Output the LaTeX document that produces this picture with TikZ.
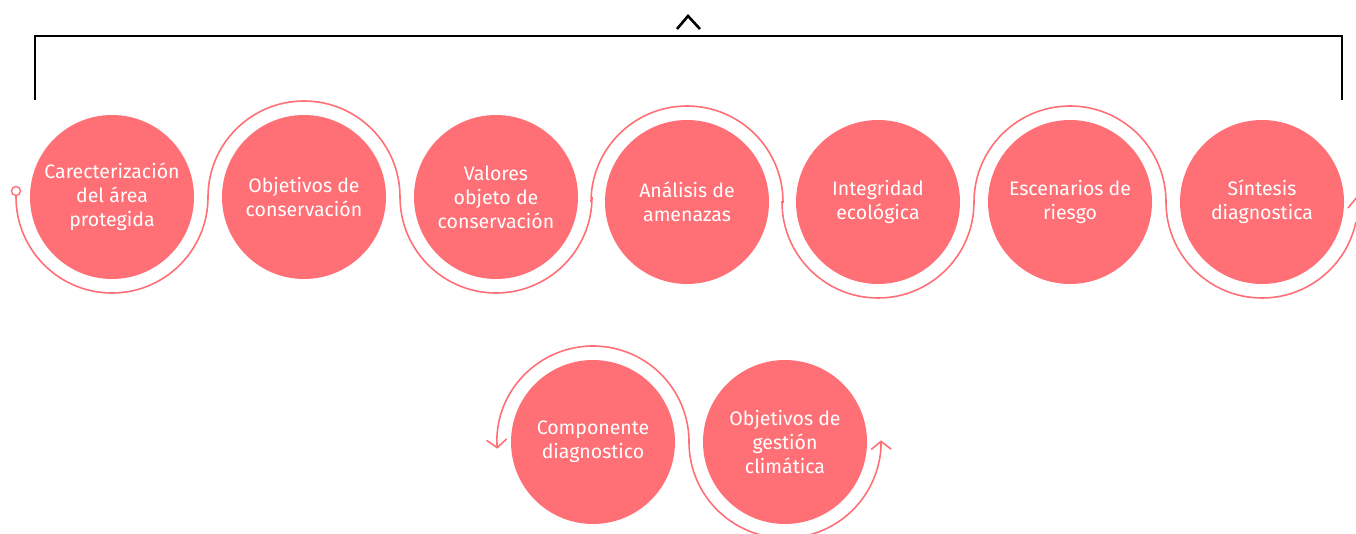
\documentclass[tikz,border=0pt]{standalone}
\usepackage{fontspec}
\setmainfont{Fira Sans}
\usetikzlibrary{arrows.meta}
\definecolor{salmon}{HTML}{FF7076}

\begin{document}
\begin{tikzpicture}[x=1pt,y=1pt]
\tikzstyle{every node}=[font=\fontsize{19.5}{24}\selectfont]
\tikzstyle{etapa}=[circle,fill=salmon,text=white,minimum size=164pt,inner sep=0pt,align=center]
\tikzstyle{onda}=[draw=salmon,line width=1.6pt]
\tikzstyle{llave}=[draw=black,line width=2.6pt]
\useasboundingbox (0,0) rectangle (1356,533);

% top bracket
\draw[llave] (35,433) -- (35,497) -- (1342,497) -- (1342,433);
\draw[llave] (677,504) -- (688,517) -- (700,504);

% first row
\node (c1) at (112,336) [etapa] {Carecterización\\del área\\protegida};
\node (c2) at (304,336) [etapa] {Objetivos de\\conservación};
\node (c3) at (496,336) [etapa] {Valores\\objeto de\\conservación};
\node (c4) at (687,331) [etapa] {Análisis de\\amenazas};
\node (c5) at (878,331) [etapa] {Integridad\\ecológica};
\node (c6) at (1070,331) [etapa] {Escenarios de\\riesgo};
\node (c7) at (1262,331) [etapa] {Síntesis\\diagnostica};

% second row
\node (c8) at (593,91) [etapa] {Componente\\diagnostico};
\node (c9) at (785,91) [etapa] {Objetivos de\\gestión\\climática};

\node (marca) at (16,342) [circle,draw=salmon,fill=white,line width=1.4pt,minimum size=9pt,inner sep=0pt] {};

% wave round the first row
\path[onda] (marca.south) -- ([xshift=-96pt]c1.center)
  arc[start angle=180,end angle=360,radius=96pt]
  -- ([xshift=-96pt]c2.center) arc[start angle=180,end angle=0,radius=96pt]
  -- ([xshift=-96pt]c3.center) arc[start angle=180,end angle=360,radius=96pt]
  -- ([xshift=-96pt]c4.center) arc[start angle=180,end angle=0,radius=96pt]
  -- ([xshift=-96pt]c5.center) arc[start angle=180,end angle=360,radius=96pt]
  -- ([xshift=-96pt]c6.center) arc[start angle=180,end angle=0,radius=96pt]
  -- ([xshift=-96pt]c7.center) arc[start angle=180,end angle=348,radius=96pt];
\path[onda] ([shift={(86,-6)}]c7.center) -- ([shift={(95,5)}]c7.center);

% arrows round the second row
\path[onda,{Straight Barb[length=8pt,width=20pt]}-{Straight Barb[length=8pt,width=20pt]}]
  ([shift={(184:96pt)}]c8.center) arc[start angle=184,end angle=0,radius=96pt]
  arc[start angle=180,end angle=361,radius=96pt];

\end{tikzpicture}
\end{document}
